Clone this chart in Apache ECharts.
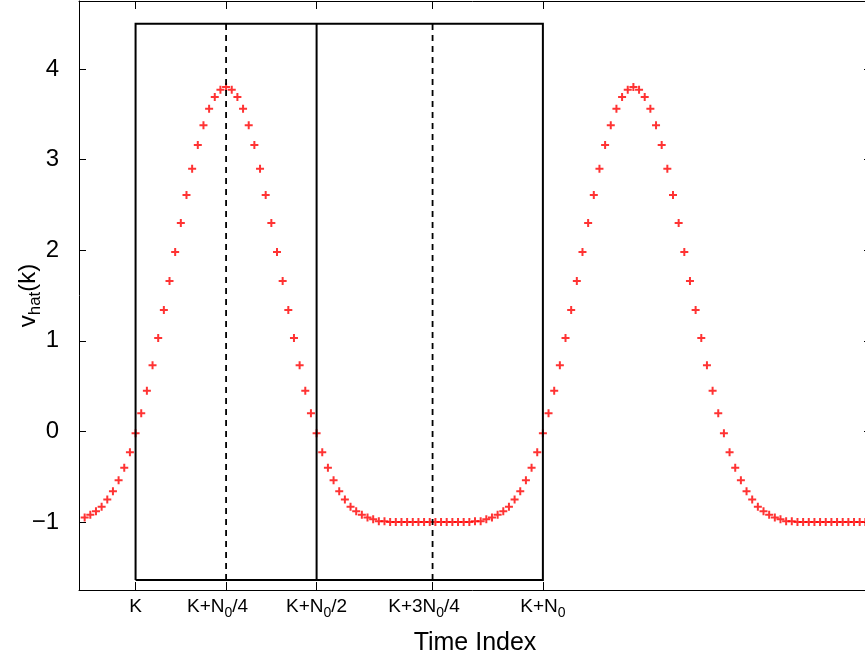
<!DOCTYPE html>
<html>
<head>
<meta charset="utf-8">
<title>v_hat(k)</title>
<script src="https://cdn.jsdelivr.net/npm/echarts@6/dist/echarts.min.js"></script>
<style>
  html, body { margin: 0; padding: 0; background: #fff; }
  #chart { width: 865px; height: 665px; }
</style>
</head>
<body>
<div id="chart"></div>
<script>
// Sample index of the first value in vhat
const firstSample = -9;

// Estimated signal v_hat(k), one value per sample from k = -9 to k = 129
const vhat = [
  // k = -9 .. -1
  -0.95, -0.92, -0.88, -0.83, -0.75, -0.66, -0.54, -0.40, -0.23,
  // k = 0 .. 32 (positive lobe)
  -0.02, 0.20, 0.45, 0.73, 1.03, 1.34, 1.66, 1.98, 2.30, 2.61, 2.90, 3.16, 3.38, 3.56, 3.69, 3.77,
  3.80, 3.77, 3.69, 3.56, 3.38, 3.16, 2.90, 2.61, 2.30, 1.98, 1.66, 1.34, 1.03, 0.73, 0.45, 0.20, -0.02,
  // k = 33 .. 71 (negative lobe)
  -0.23, -0.40, -0.54, -0.66, -0.75, -0.83, -0.88, -0.92, -0.95, -0.97, -0.99, -0.99,
  -1.00, -1.00, -1.00, -1.00, -1.00, -1.00, -1.00, -1.00, -1.00, -1.00, -1.00, -1.00, -1.00, -1.00, -1.00,
  -0.99, -0.99, -0.97, -0.95, -0.92, -0.88, -0.83, -0.75, -0.66, -0.54, -0.40, -0.23,
  // k = 72 .. 104 (positive lobe)
  -0.02, 0.20, 0.45, 0.73, 1.03, 1.34, 1.66, 1.98, 2.30, 2.61, 2.90, 3.16, 3.38, 3.56, 3.69, 3.77,
  3.80, 3.77, 3.69, 3.56, 3.38, 3.16, 2.90, 2.61, 2.30, 1.98, 1.66, 1.34, 1.03, 0.73, 0.45, 0.20, -0.02,
  // k = 105 .. 129 (negative lobe)
  -0.23, -0.40, -0.54, -0.66, -0.75, -0.83, -0.88, -0.92, -0.95, -0.97, -0.99, -0.99,
  -1.00, -1.00, -1.00, -1.00, -1.00, -1.00, -1.00, -1.00, -1.00, -1.00, -1.00, -1.00, -1.00
];

// Time index ticks (in samples after K) and their labels
const xTickValues = [0, 16, 32, 52.5, 72];
const xTickLabels = [
  '{m|K}',
  '{m|K+N}{s|0}{e|/4}',
  '{m|K+N}{s|0}{m|/2}',
  '{m|K+3N}{s|0}{e|/4}',
  '{m|K+N}{s|0}'
];
const yTickValues = [-1, 0, 1, 2, 3, 4];

// Axis limits
const xRange = [-10, 130];
const yRange = [-1.75, 4.75];

// Window markers: solid frame edges and dashed quarter lines
const frameEdges = [0, 32, 72];
const quarterLines = [16, 52.5];
const frameTop = 4.5;
const frameBottom = -1.64;

const FONT = '"Liberation Sans", Arial, Helvetica, sans-serif';

const points = vhat.map((v, i) => [firstSample + i, v]);

const frameOutline = [
  [frameEdges[0], frameBottom], [frameEdges[0], frameTop],
  [frameEdges[2], frameTop], [frameEdges[2], frameBottom],
  [frameEdges[0], frameBottom]
];

const series = [
  {
    type: 'scatter',
    data: points,
    symbol: 'path://M3,0H5V3H8V5H5V8H3V5H0V3H3Z',
    symbolSize: 8,
    itemStyle: { color: '#ff0000' },
    z: 2,
    silent: true
  },
  {
    type: 'line',
    data: frameOutline,
    symbol: 'none',
    lineStyle: { color: '#000', width: 2, join: 'miter' },
    z: 3,
    silent: true
  },
  {
    type: 'line',
    data: [[frameEdges[1], frameBottom], [frameEdges[1], frameTop]],
    symbol: 'none',
    lineStyle: { color: '#000', width: 2 },
    z: 3,
    silent: true
  }
];
quarterLines.forEach(q => {
  series.push({
    type: 'line',
    data: [[q, frameBottom], [q, frameTop]],
    symbol: 'none',
    lineStyle: { color: '#000', width: 1.8, type: [6, 5] },
    z: 3,
    silent: true
  });
});

const chart = echarts.init(document.getElementById('chart'), null, { renderer: 'canvas' });

const axisLineStyle = { show: true, onZero: false, lineStyle: { color: '#000', width: 1 } };

chart.setOption({
  animation: false,
  backgroundColor: '#fff',
  grid: { left: 79, top: 1, width: 792, height: 589, outerBoundsMode: 'none', containLabel: false },
  xAxis: [
    {
      type: 'value',
      position: 'bottom',
      min: xRange[0],
      max: xRange[1],
      axisLine: axisLineStyle,
      splitLine: { show: false },
      axisTick: {
        show: true, inside: true, length: 8,
        customValues: xTickValues,
        lineStyle: { color: '#000', width: 1 }
      },
      axisLabel: {
        show: true,
        margin: 3,
        customValues: xTickValues,
        formatter: v => xTickLabels[xTickValues.indexOf(v)],
        rich: {
          m: { fontFamily: FONT, fontSize: 19, color: '#000', lineHeight: 28 },
          e: { fontFamily: FONT, fontSize: 19, color: '#000', lineHeight: 28, padding: [0, 17, 0, 0] },
          s: { fontFamily: FONT, fontSize: 14, color: '#000', lineHeight: 16, padding: [12, 0, 0, 0] }
        }
      },
      name: 'Time Index',
      nameLocation: 'middle',
      nameGap: 41,
      nameTextStyle: { fontFamily: FONT, fontSize: 25, color: '#000' }
    },
    {
      type: 'value',
      position: 'top',
      min: xRange[0],
      max: xRange[1],
      axisLine: axisLineStyle,
      splitLine: { show: false },
      axisTick: {
        show: true, inside: true, length: 8,
        customValues: xTickValues,
        lineStyle: { color: '#000', width: 1 }
      },
      axisLabel: { show: false }
    }
  ],
  yAxis: [
    {
      type: 'value',
      position: 'left',
      min: yRange[0],
      max: yRange[1],
      axisLine: axisLineStyle,
      splitLine: { show: false },
      axisTick: {
        show: true, inside: true, length: 7,
        customValues: yTickValues,
        lineStyle: { color: '#000', width: 1 }
      },
      axisLabel: {
        show: true,
        margin: 20,
        customValues: yTickValues,
        fontFamily: FONT,
        fontSize: 24,
        color: '#000',
        formatter: v => (v < 0 ? '\u2212' + Math.abs(v) : String(v))
      },
      name: '{m|v}{s|hat}{m|(k)}',
      nameLocation: 'middle',
      nameRotate: 90,
      nameGap: 34,
      nameMoveOverlap: false,
      nameTextStyle: {
        rich: {
          m: { fontFamily: FONT, fontSize: 24, color: '#000', lineHeight: 34 },
          s: { fontFamily: FONT, fontSize: 17, color: '#000', lineHeight: 20, padding: [14, 0, 0, 0] }
        }
      }
    },
    {
      type: 'value',
      position: 'right',
      min: yRange[0],
      max: yRange[1],
      axisLine: axisLineStyle,
      splitLine: { show: false },
      axisTick: {
        show: true, inside: true, length: 7,
        customValues: yTickValues,
        lineStyle: { color: '#000', width: 1 }
      },
      axisLabel: { show: false }
    }
  ],
  series: series
});
</script>
</body>
</html>
